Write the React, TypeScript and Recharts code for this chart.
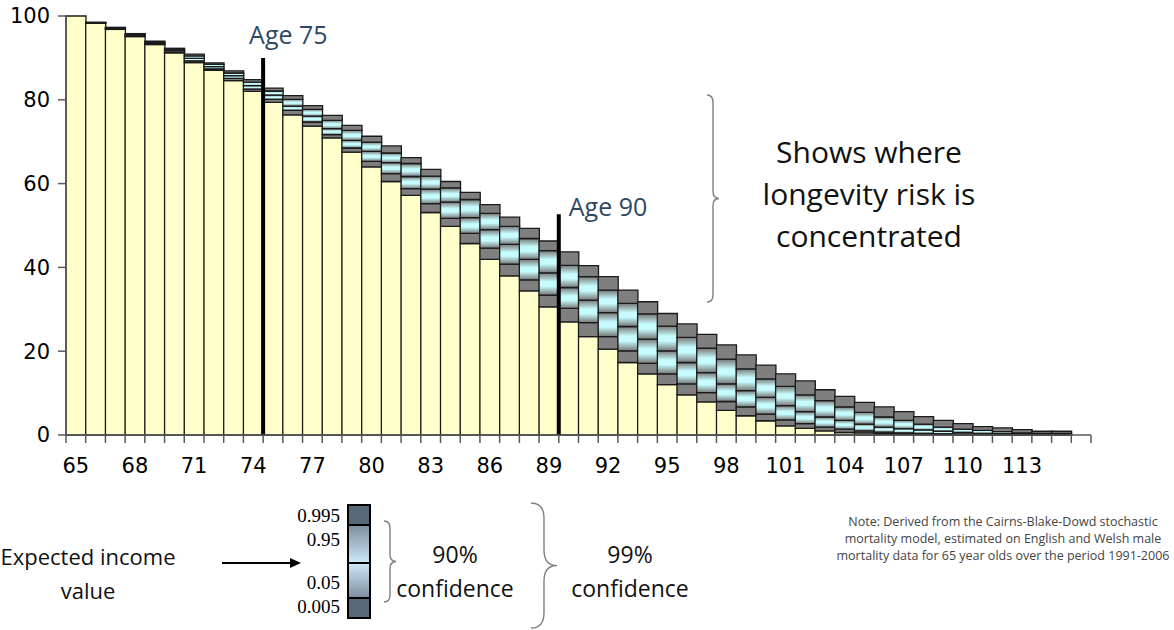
import React from 'react';
import { BarChart, Bar, XAxis, YAxis, ReferenceLine } from 'recharts';

const ages = [65, 66, 67, 68, 69, 70, 71, 72, 73, 74, 75, 76, 77, 78, 79, 80, 81, 82, 83, 84, 85, 86, 87, 88, 89, 90, 91, 92, 93, 94, 95, 96, 97, 98, 99, 100, 101, 102, 103, 104, 105, 106, 107, 108, 109, 110, 111, 112, 113, 114, 115, 116];

// quantiles of expected income (% of starting) by age
const q005 = [100, 98.3, 96.8, 95.1, 93.2, 91.2, 88.9, 87.0, 84.6, 82.0, 79.4, 76.4, 73.7, 70.9, 67.5, 64.0, 60.5, 57.2, 53.1, 49.8, 45.7, 41.9, 38.0, 34.4, 30.6, 27.0, 23.5, 20.5, 17.3, 14.6, 12.0, 9.6, 7.9, 5.9, 4.6, 3.4, 2.2, 1.6, 1.0, 0.6, 0.5, 0.3, 0.2, 0.1, 0.05, 0.03, 0.02, 0.01, 0.01, 0, 0, 0];
const q05 = [100, 98.35, 96.9, 95.25, 93.35, 91.4, 89.3, 87.35, 85.1, 82.55, 80.1, 77.5, 74.7, 71.7, 68.5, 65.3, 62.4, 58.8, 55.2, 51.7, 48.1, 44.6, 40.8, 37.0, 33.4, 30.2, 26.8, 23.5, 20.1, 17.1, 14.6, 12.2, 10.1, 8.0, 6.7, 5.0, 3.6, 2.7, 1.9, 1.4, 1.0, 0.7, 0.5, 0.4, 0.3, 0.2, 0.15, 0.1, 0.08, 0.05, 0.04, 0];
const q50 = [100, 98.4, 97.05, 95.45, 93.6, 91.75, 89.9, 87.9, 85.75, 83.4, 81.1, 78.5, 76.1, 73.1, 70.3, 67.7, 65.0, 61.7, 58.7, 55.6, 51.9, 49.0, 45.5, 41.9, 38.7, 35.2, 32.2, 29.2, 25.9, 22.9, 20.1, 17.3, 14.9, 12.2, 10.6, 9.0, 7.0, 5.6, 4.3, 3.5, 2.6, 1.9, 1.5, 1.2, 0.9, 0.6, 0.4, 0.3, 0.2, 0.15, 0.1, 0];
const q95 = [100, 98.45, 97.2, 95.65, 93.85, 92.1, 90.5, 88.45, 86.4, 84.2, 82.1, 80.1, 77.7, 75.1, 72.7, 69.9, 67.3, 64.8, 61.8, 59.0, 56.2, 52.9, 49.8, 46.9, 44.0, 40.5, 37.8, 34.6, 31.4, 28.9, 26.0, 23.3, 20.7, 18.1, 15.8, 13.4, 11.6, 9.6, 8.2, 6.7, 5.4, 4.3, 3.5, 2.6, 1.9, 1.4, 1.1, 0.8, 0.5, 0.4, 0.4, 0];
const q995 = [100, 98.5, 97.3, 95.8, 94.0, 92.3, 90.9, 88.8, 86.9, 84.8, 82.8, 81.0, 78.6, 76.3, 73.9, 71.3, 69.0, 66.2, 63.4, 60.5, 57.9, 55.0, 52.0, 49.3, 46.3, 43.7, 40.4, 37.8, 34.6, 31.8, 29.0, 26.5, 24.0, 21.5, 19.1, 16.7, 14.6, 12.9, 10.8, 9.2, 7.8, 6.7, 5.6, 4.4, 3.5, 2.7, 2.0, 1.7, 1.3, 0.9, 0.9, 0];

const xTickLabels = ['65', '68', '71', '74', '77', '80', '83', '86', '89', '92', '95', '98', '101', '104', '107', '110', '113'];
const yTicks = [0, 20, 40, 60, 80, 100];
const markerAges = [
  { age: 75, top: 90, label: 'Age 75', dx: -14, dy: -14 },
  { age: 90, top: 52.7, label: 'Age 90', dx: 10, dy: 2 },
];
const legendQuantiles = ['0.995', '0.95', '0.05', '0.005'];
const noteLines = [
  'Note: Derived from the Cairns-Blake-Dowd stochastic',
  'mortality model, estimated on English and Welsh male',
  'mortality data for 65 year olds over the period 1991-2006',
];

const data = ages.map((age, i) => ({
  age,
  base: q005[i],
  lowOuter: +(q05[i] - q005[i]).toFixed(3),
  lowInner: +(q50[i] - q05[i]).toFixed(3),
  highInner: +(q95[i] - q50[i]).toFixed(3),
  highOuter: +(q995[i] - q95[i]).toFixed(3),
}));

const AXIS = '#595959';
const BAR_STROKE = '#1a1a1a';
const SANS = '"Open Sans", sans-serif';

const XTick = (props: any) => {
  const { x, y, payload, index } = props;
  const half = payload && payload.offset ? payload.offset : 9.86;
  const show = xTickLabels.includes(String(payload.value));
  return (
    <g>
      <line x1={x - half} x2={x - half} y1={y} y2={y + 8} stroke={AXIS} strokeWidth={1.5} />
      {index === ages.length - 1 && (
        <line x1={x + half} x2={x + half} y1={y} y2={y + 8} stroke={AXIS} strokeWidth={1.5} />
      )}
      {show && (
        <text x={x} y={y + 38} textAnchor="middle" fontFamily='"DejaVu Sans", sans-serif' fontSize={21} fill="#000">
          {payload.value}
        </text>
      )}
    </g>
  );
};

const brace = (x: number, y1: number, y2: number, w: number) => {
  const ym = (y1 + y2) / 2;
  const h = w / 2;
  const q = Math.min(w * 0.6, (y2 - y1) / 6);
  return `M ${x} ${y1} Q ${x + h} ${y1} ${x + h} ${y1 + q} L ${x + h} ${ym - q} Q ${x + h} ${ym} ${x + w} ${ym} Q ${x + h} ${ym} ${x + h} ${ym + q} L ${x + h} ${y2 - q} Q ${x + h} ${y2} ${x} ${y2}`;
};

const lineStyle: React.CSSProperties = { whiteSpace: 'nowrap' };

export default function App() {
  return (
    <div style={{ position: 'absolute', left: 0, top: 0, width: 1174, height: 630, background: '#fff', overflow: 'hidden' }}>
      <BarChart
        width={1174}
        height={630}
        data={data}
        margin={{ top: 16, right: 83, bottom: 155, left: 0 }}
        barCategoryGap={0}
        barGap={0}
      >
        <defs>
          <linearGradient id="bandGrad" x1="0" y1="0" x2="0" y2="1">
            <stop offset="0%" stopColor="#767676" />
            <stop offset="40%" stopColor="#c6fcfe" />
            <stop offset="60%" stopColor="#c6fcfe" />
            <stop offset="100%" stopColor="#767676" />
          </linearGradient>
        </defs>
        <XAxis
          dataKey="age"
          type="category"
          interval={0}
          height={40}
          tickLine={false}
          tickSize={0}
          tickMargin={0}
          axisLine={{ stroke: AXIS, strokeWidth: 1.5 }}
          tick={<XTick />}
        />
        <YAxis
          domain={[0, 100]}
          ticks={yTicks}
          width={66}
          tickSize={8}
          tickMargin={8}
          axisLine={{ stroke: AXIS, strokeWidth: 1.5 }}
          tickLine={{ stroke: AXIS, strokeWidth: 1.5 }}
          tick={{ fontFamily: '"DejaVu Sans", sans-serif', fontSize: 21, fill: '#000' }}
        />
        <Bar dataKey="base" stackId="a" fill="#ffffcc" stroke={BAR_STROKE} strokeWidth={1.3} isAnimationActive={false} />
        <Bar dataKey="lowOuter" stackId="a" fill="#7f7f7f" stroke={BAR_STROKE} strokeWidth={1.3} isAnimationActive={false} />
        <Bar dataKey="lowInner" stackId="a" fill="url(#bandGrad)" stroke={BAR_STROKE} strokeWidth={1.3} isAnimationActive={false} />
        <Bar dataKey="highInner" stackId="a" fill="url(#bandGrad)" stroke={BAR_STROKE} strokeWidth={1.3} isAnimationActive={false} />
        <Bar dataKey="highOuter" stackId="a" fill="#7f7f7f" stroke={BAR_STROKE} strokeWidth={1.3} isAnimationActive={false} />
        {markerAges.map((m) => (
          <ReferenceLine
            key={m.age}
            position="start"
            segment={[{ x: m.age, y: 0 }, { x: m.age, y: m.top }]}
            stroke="#000"
            strokeWidth={4}
            ifOverflow="visible"
            label={(p: any) => (
              <text
                x={p.viewBox.x + m.dx}
                y={p.viewBox.y + m.dy}
                fontFamily={SANS}
                fontSize={25}
                fill="#2f4862"
              >
                {m.label}
              </text>
            )}
          />
        ))}
      </BarChart>

      <svg width={1174} height={630} style={{ position: 'absolute', left: 0, top: 0, pointerEvents: 'none' }}>
        <path d={brace(707, 95, 302, 12)} fill="none" stroke="#808080" strokeWidth={1.4} />
        <path d={brace(384, 521, 602, 12)} fill="none" stroke="#808080" strokeWidth={1.4} />
        <path d={brace(531, 503, 628, 26)} fill="none" stroke="#808080" strokeWidth={1.4} />
        <line x1={222} y1={563} x2={292} y2={563} stroke="#000" strokeWidth={2} />
        <path d="M 290 558 L 301 563 L 290 568 Z" fill="#000" />
        <defs>
          <linearGradient id="legTop" x1="0" y1="0" x2="0" y2="1">
            <stop offset="0%" stopColor="#7d8d9e" />
            <stop offset="100%" stopColor="#cce9fa" />
          </linearGradient>
          <linearGradient id="legBot" x1="0" y1="0" x2="0" y2="1">
            <stop offset="0%" stopColor="#cce9fa" />
            <stop offset="100%" stopColor="#7d8d9e" />
          </linearGradient>
        </defs>
        <rect x={348} y={505} width={22} height={20} fill="#586878" stroke="#000" strokeWidth={2} />
        <rect x={348} y={525} width={22} height={38} fill="url(#legTop)" stroke="#000" strokeWidth={2} />
        <rect x={348} y={563} width={22} height={35} fill="url(#legBot)" stroke="#000" strokeWidth={2} />
        <rect x={348} y={598} width={22} height={20} fill="#586878" stroke="#000" strokeWidth={2} />
        {legendQuantiles.map((q, i) => (
          <text
            key={q}
            x={340}
            y={[522, 546, 589, 613][i]}
            textAnchor="end"
            fontFamily='"Liberation Serif", serif'
            fontSize={19}
            fill="#000"
          >
            {q}
          </text>
        ))}
      </svg>

      <div style={{ position: 'absolute', left: 738, top: 131, width: 262, textAlign: 'center', fontFamily: SANS, fontSize: 30, lineHeight: '42px', color: '#111' }}>
        Shows where<br />longevity risk is<br />concentrated
      </div>
      <div style={{ position: 'absolute', left: -12, top: 539, width: 200, textAlign: 'center', fontFamily: SANS, fontSize: 22, lineHeight: '34px', color: '#111' }}>
        <div style={lineStyle}>Expected income</div>
        <div style={lineStyle}>value</div>
      </div>
      <div style={{ position: 'absolute', left: 380, top: 537, width: 150, textAlign: 'center', fontFamily: SANS, fontSize: 23, lineHeight: '34px', color: '#111' }}>
        <div style={lineStyle}>90%</div>
        <div style={lineStyle}>confidence</div>
      </div>
      <div style={{ position: 'absolute', left: 555, top: 537, width: 150, textAlign: 'center', fontFamily: SANS, fontSize: 23, lineHeight: '34px', color: '#111' }}>
        <div style={lineStyle}>99%</div>
        <div style={lineStyle}>confidence</div>
      </div>
      <div style={{ position: 'absolute', left: 828, top: 513, width: 350, textAlign: 'center', fontFamily: SANS, fontSize: 12.5, lineHeight: '17px', color: '#444' }}>
        {noteLines.map((l) => (
          <div key={l} style={lineStyle}>{l}</div>
        ))}
      </div>
    </div>
  );
}
